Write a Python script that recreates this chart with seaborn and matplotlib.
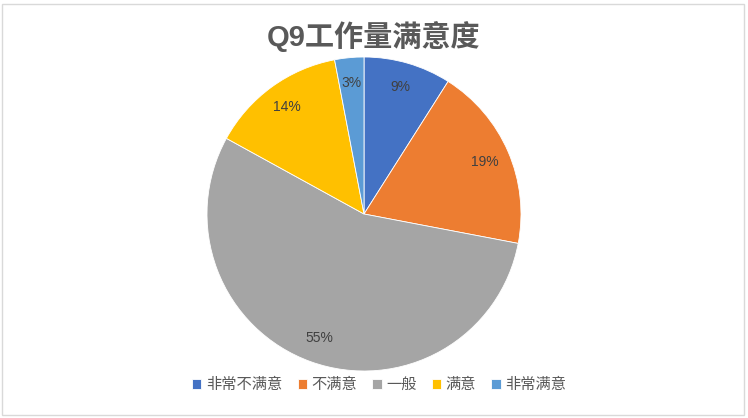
import matplotlib
matplotlib.use("Agg")
import matplotlib.pyplot as plt
from matplotlib.patches import Rectangle
import seaborn as sns

categories = ["非常不满意", "不满意", "一般", "满意", "非常满意"]
shares = [9, 19, 55, 14, 3]
colors = ["#4472C4", "#ED7D31", "#A5A5A5", "#FFC000", "#5B9BD5"]

sns.set_theme(style="white")
plt.rcParams['font.family'] = ['Liberation Sans', 'Noto Sans CJK SC', 'DejaVu Sans']

fig = plt.figure(figsize=(7.48, 4.18), dpi=100)
fig.patch.set_facecolor("white")

# pie placed by pixel box: centre ~(364, 214), radius ~157
W, H = 748, 418
ax = fig.add_axes([207 / W, (H - 371) / H, 314 / W, 314 / H])
wedges, texts, autotexts = ax.pie(
    shares,
    colors=sns.color_palette(colors),
    startangle=90,
    counterclock=False,
    autopct="%d%%",
    pctdistance=0.84,
    wedgeprops=dict(edgecolor="white", linewidth=0.6),
    textprops=dict(color="#404040", fontsize=10),
)
ax.set_xlim(-1, 1)
ax.set_ylim(-1, 1)
ax.set_aspect("equal")

fig.text(0.5, 1 - 37 / H, "Q9工作量满意度", ha="center", va="center",
         fontsize=21, fontweight="bold", color="#595959")

fig.legend(wedges, categories, loc="center", bbox_to_anchor=(0.507, 1 - 385 / H),
           ncol=5, frameon=False, fontsize=11, handlelength=0.6, handleheight=0.6,
           handletextpad=0.3, columnspacing=1.0, labelcolor="#595959")

fig.patches.append(Rectangle((2 / W, 3 / H), 742 / W, 411 / H, transform=fig.transFigure,
                             fill=False, edgecolor="#D9D9D9", linewidth=1))

fig.savefig("out.png", dpi=100)
